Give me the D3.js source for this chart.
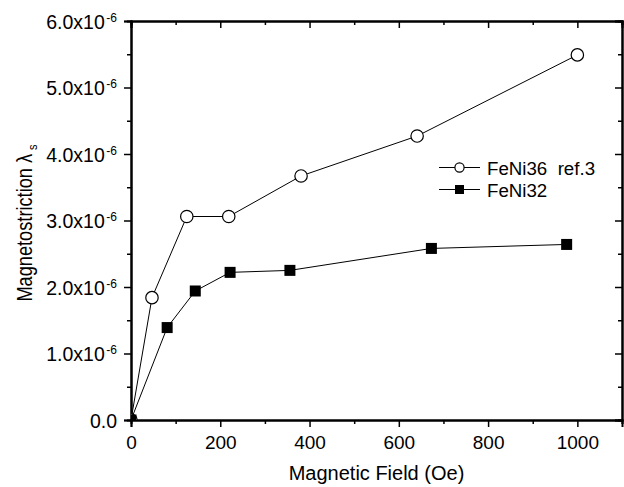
<!DOCTYPE html>
<html>
<head>
<meta charset="utf-8">
<script src="https://cdn.jsdelivr.net/npm/d3@7"></script>
<style>
  body { margin: 0; background: #fff; }
  svg { display: block; font-family: "Liberation Sans", Arial, sans-serif; }
  text { white-space: pre; }
</style>
</head>
<body>
<div id="chart"></div>
<script>
// data (field in Oe, magnetostriction in units of 1e-6)
const fe36Field = [0, 47, 125, 219, 381, 641, 1000];
const fe36Lambda = [0, 1.84, 3.06, 3.06, 3.67, 4.27, 5.49];
const fe32Field = [0, 81, 144, 222, 356, 673, 976];
const fe32Lambda = [0, 1.39, 1.94, 2.22, 2.25, 2.58, 2.64];
const xTicks = [0, 200, 400, 600, 800, 1000];
const yTicks = [0, 1, 2, 3, 4, 5, 6];
const legendLabels = ["FeNi36  ref.3", "FeNi32"];

const width = 624, height = 487;
const margin = { top: 21, right: 2, bottom: 67, left: 131 };

const svg = d3.select('#chart').append('svg')
  .attr('width', width)
  .attr('height', height);

const x = d3.scaleLinear().domain([0, 1100]).range([margin.left, width - margin.right]);
const y = d3.scaleLinear().domain([0, 6]).range([height - margin.bottom, margin.top]);

const minorX = d3.range(0, 1101, 100).filter(v => v % 200 !== 0);
const minorY = d3.range(0.5, 6, 1);

// clip for markers
svg.append('clipPath').attr('id', 'plot')
  .append('rect')
  .attr('x', x(0)).attr('y', y(6))
  .attr('width', x(1100) - x(0)).attr('height', y(0) - y(6));

// bottom axis
const bottom = svg.append('g')
  .attr('transform', `translate(0,${y(0)})`)
  .call(d3.axisBottom(x).tickValues(xTicks).tickSize(7).tickPadding(9).tickFormat(d3.format('d')));
svg.append('g')
  .attr('transform', `translate(0,${y(0)})`)
  .call(d3.axisBottom(x).tickValues(minorX).tickSize(4).tickFormat(''));

// top axis (inward)
svg.append('g')
  .attr('transform', `translate(0,${y(6)})`)
  .call(d3.axisBottom(x).tickValues(xTicks).tickSize(7).tickFormat(''));
svg.append('g')
  .attr('transform', `translate(0,${y(6)})`)
  .call(d3.axisBottom(x).tickValues(minorX).tickSize(4).tickFormat(''));

// left axis
svg.append('g')
  .attr('transform', `translate(${x(0)},0)`)
  .call(d3.axisLeft(y).tickValues(yTicks).tickSize(7).tickFormat(''));
svg.append('g')
  .attr('transform', `translate(${x(0)},0)`)
  .call(d3.axisLeft(y).tickValues(minorY).tickSize(4).tickFormat(''));

// right axis (inward)
svg.append('g')
  .attr('transform', `translate(${x(1100)},0)`)
  .call(d3.axisLeft(y).tickValues(yTicks).tickSize(7).tickFormat(''));
svg.append('g')
  .attr('transform', `translate(${x(1100)},0)`)
  .call(d3.axisLeft(y).tickValues(minorY).tickSize(4).tickFormat(''));

svg.selectAll('.domain').attr('stroke', '#000').attr('stroke-width', 2);
svg.selectAll('.tick line').attr('stroke', '#000').attr('stroke-width', 1.5);

bottom.selectAll('.tick text')
  .attr('font-size', 19)
  .attr('font-family', '"Liberation Sans", Arial, sans-serif')
  .attr('fill', '#000');

// y tick labels with superscript
const yLab = svg.append('g')
  .attr('font-size', 19.5)
  .attr('fill', '#000')
  .attr('text-anchor', 'end');
yTicks.forEach(v => {
  const t = yLab.append('text')
    .attr('x', x(0) - 14)
    .attr('y', y(v) + 7.5);
  if (v === 0) {
    t.text('0.0');
  } else {
    t.append('tspan').text(v.toFixed(1) + 'x10');
    t.append('tspan').attr('font-size', 12).attr('dy', -7).attr('dx', 1.5).text('-6');
  }
});

// lines and markers
const line = d3.line().x(d => x(d[0])).y(d => y(d[1]));
const fe36 = fe36Field.map((f, i) => [f, fe36Lambda[i]]);
const fe32 = fe32Field.map((f, i) => [f, fe32Lambda[i]]);

const plot = svg.append('g').attr('clip-path', 'url(#plot)');
[fe36, fe32].forEach(data => {
  plot.append('path')
    .datum(data)
    .attr('fill', 'none')
    .attr('stroke', '#000')
    .attr('stroke-width', 1)
    .attr('d', line);
});

plot.selectAll('.circ').data(fe36).join('circle')
  .attr('class', 'circ')
  .attr('cx', d => x(d[0])).attr('cy', d => y(d[1]))
  .attr('r', 6.2)
  .attr('fill', '#fff').attr('stroke', '#000').attr('stroke-width', 1.2);

plot.selectAll('.sq').data(fe32).join('rect')
  .attr('class', 'sq')
  .attr('x', d => x(d[0]) - 5.5).attr('y', d => y(d[1]) - 5.5)
  .attr('width', 11).attr('height', 11)
  .attr('fill', '#000');

// legend
const legend = svg.append('g').attr('font-size', 18.7).attr('fill', '#000');
legendLabels.forEach((label, i) => {
  const ly = 167.5 + i * 22;
  legend.append('line')
    .attr('x1', 439).attr('x2', 480).attr('y1', ly).attr('y2', ly)
    .attr('stroke', '#000').attr('stroke-width', 1);
  if (i === 0) {
    legend.append('circle').attr('cx', 459.5).attr('cy', ly).attr('r', 4.6)
      .attr('fill', '#fff').attr('stroke', '#000').attr('stroke-width', 1.2);
  } else {
    legend.append('rect').attr('x', 455).attr('y', ly - 4.5).attr('width', 9).attr('height', 9)
      .attr('fill', '#000');
  }
  legend.append('text').attr('x', 487).attr('y', ly + 7.2).text(label);
});

// axis titles
svg.append('text')
  .attr('x', (x(0) + x(1100)) / 2)
  .attr('y', 480)
  .attr('text-anchor', 'middle')
  .attr('font-size', 20)
  .text('Magnetic Field (Oe)');

const yt = svg.append('text')
  .attr('transform', 'translate(32,223) rotate(-90) scale(1,1.2)')
  .attr('text-anchor', 'middle')
  .attr('font-size', 18.2);
yt.append('tspan').text('Magnetostriction λ');
yt.append('tspan').attr('font-size', 11).attr('dx', 4).attr('dy', 4).text('s');
</script>
</body>
</html>
